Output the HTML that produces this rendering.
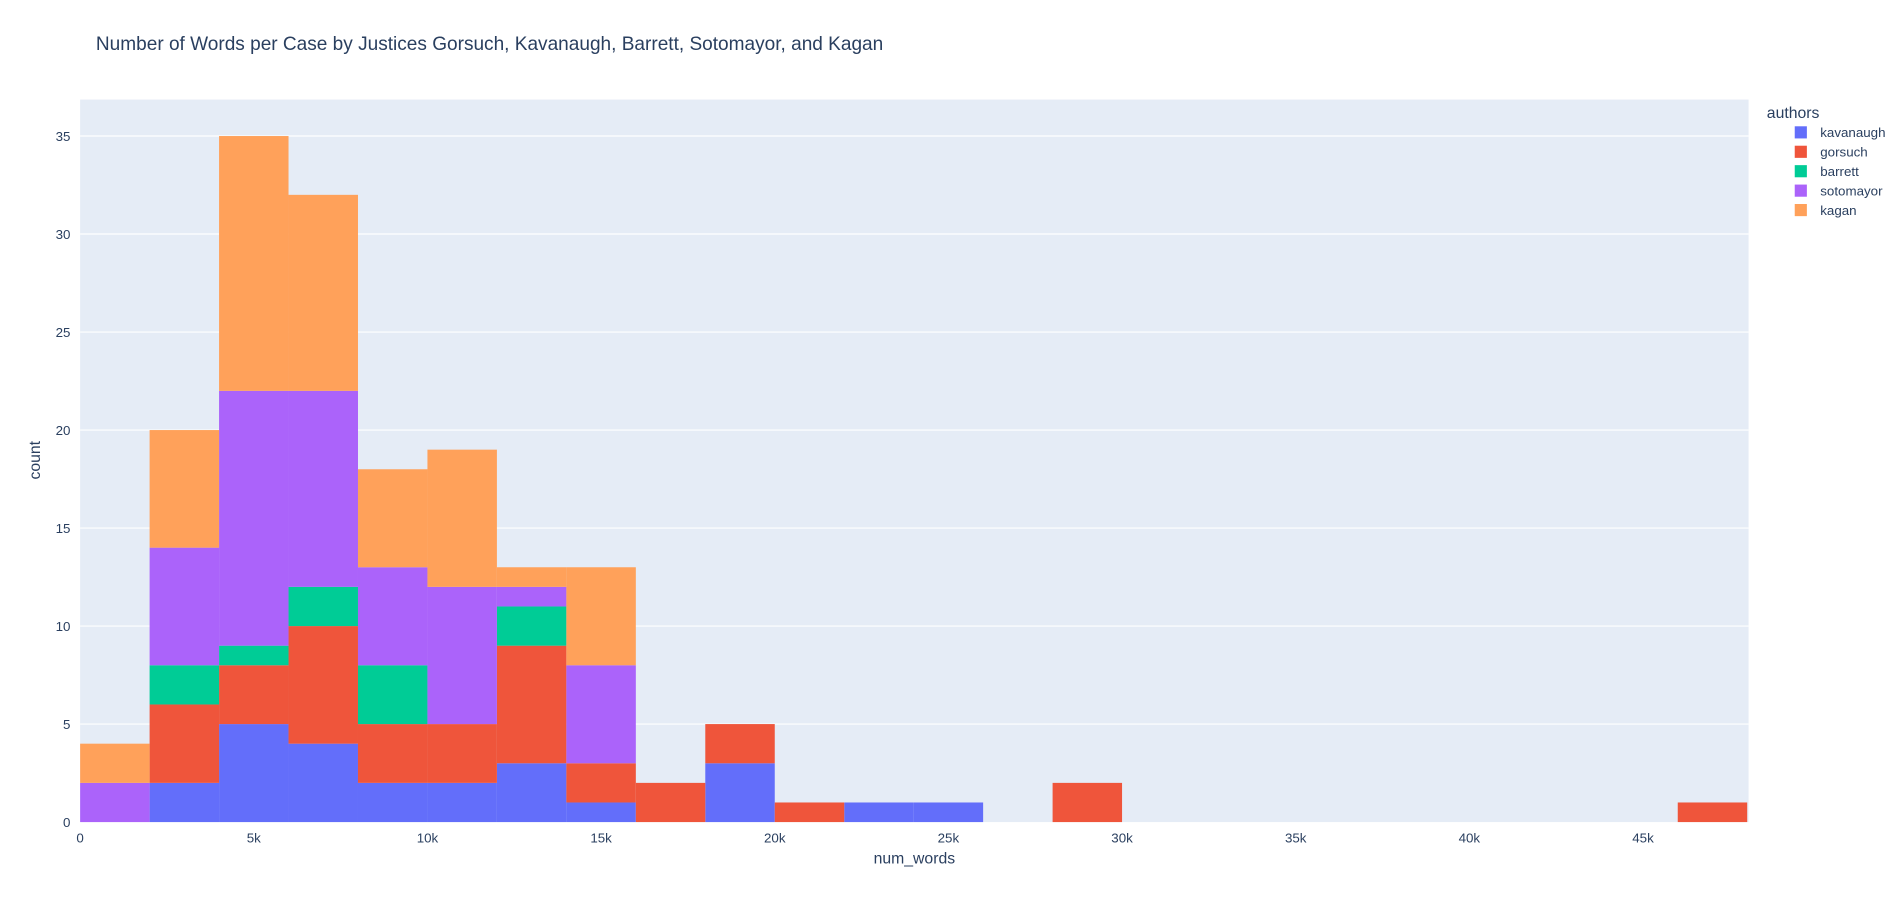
<!DOCTYPE html>
<html><head><meta charset="utf-8"><style>
html,body{margin:0;padding:0;background:#fff;overflow:hidden;}
svg text{font-family:"Liberation Sans",Arial,sans-serif;}
</style></head><body>
<svg id="chart" width="1904" height="902" xmlns="http://www.w3.org/2000/svg">
<rect x="0" y="0" width="1904" height="902" fill="#fff"/>
<g transform="scale(1.2143)">
<text x="79" y="41" font-size="15.7" fill="#2a3f5f">Number of Words per Case by Justices Gorsuch, Kavanaugh, Barrett, Sotomayor, and Kagan</text>
<rect x="66" y="82" width="1374" height="595" fill="#e5ecf6"/>
<g id="grid"></g>
<g id="bars"></g>
<g id="axes"></g>
<g id="legend"></g>
</g>
</svg>
<script>
const binWidth = 2000;
const seriesNames = ["kavanaugh","gorsuch","barrett","sotomayor","kagan"];
const seriesColors = ["#636efa","#ef553b","#00cc96","#ab63fa","#ffa15a"];
const kavanaugh = [0,2,5,4,2,2,3,1,0,3,0,1,1,0,0,0,0,0,0,0,0,0,0,0];
const gorsuch   = [0,4,3,6,3,3,6,2,2,2,1,0,0,0,2,0,0,0,0,0,0,0,0,1];
const barrett   = [0,2,1,2,3,0,2,0,0,0,0,0,0,0,0,0,0,0,0,0,0,0,0,0];
const sotomayor = [2,6,13,10,5,7,1,5,0,0,0,0,0,0,0,0,0,0,0,0,0,0,0,0];
const kagan     = [2,6,13,10,5,7,1,5,0,0,0,0,0,0,0,0,0,0,0,0,0,0,0,0];
const xTicks = [0,5000,10000,15000,20000,25000,30000,35000,40000,45000];
const xTickLabels = ["0","5k","10k","15k","20k","25k","30k","35k","40k","45k"];
const yTicks = [0,5,10,15,20,25,30,35];

const X0=66, X1=1440, Y0=677, Y1=82;
const xMax=48040, yMax=36.86;
const xs = v => X0 + v/xMax*(X1-X0);
const ys = v => Y0 - v/yMax*(Y0-Y1);
const NS="http://www.w3.org/2000/svg";
function mk(tag, attrs, parent){const e=document.createElementNS(NS,tag);for(const k in attrs)e.setAttribute(k,attrs[k]);parent.appendChild(e);return e;}
const grid=document.getElementById('grid'), bars=document.getElementById('bars'), axes=document.getElementById('axes'), legend=document.getElementById('legend');

yTicks.forEach(t=>{
  if(t>0){const l=mk('line',{x1:X0,x2:X1,y1:ys(t),y2:ys(t),stroke:'#fff','stroke-width':1},grid);
  
  }
  const tx=mk('text',{x:X0-8,y:ys(t)+4,'font-size':11,fill:'#2a3f5f','text-anchor':'end'},axes);
  tx.textContent=t;
  
  
});
xTicks.forEach((t,i)=>{
  const tx=mk('text',{x:xs(t),y:Y0+17,'font-size':11,fill:'#2a3f5f','text-anchor':'middle'},axes);
  tx.textContent=xTickLabels[i];
  
  
});

const data=[kavanaugh,gorsuch,barrett,sotomayor,kagan];
const cum=new Array(kavanaugh.length).fill(0);
data.forEach((arr,si)=>{
  arr.forEach((v,b)=>{
    if(v>0){
      const r=mk('rect',{x:xs(b*binWidth),width:xs((b+1)*binWidth)-xs(b*binWidth),y:ys(cum[b]+v),height:ys(cum[b])-ys(cum[b]+v),fill:seriesColors[si]},bars);
      
      
    }
    cum[b]+=v;
  });
});

const xt=mk('text',{x:753,y:711,'font-size':13,fill:'#2a3f5f','text-anchor':'middle'},axes);
xt.textContent='num_words';


const yt=mk('text',{x:33,y:379,'font-size':13,fill:'#2a3f5f','text-anchor':'middle',transform:'rotate(-90 33 379)'},axes);
yt.textContent='count';



const lt=mk('text',{x:1455,y:97,'font-size':13,fill:'#2a3f5f'},legend);
lt.textContent='authors';


seriesNames.forEach((n,i)=>{
  const y=109+i*16;
  const sw=mk('rect',{x:1478,y:y-5,width:10,height:10,fill:seriesColors[i]},legend);
  
  
  const t=mk('text',{x:1499,y:y+4,'font-size':11,fill:'#2a3f5f'},legend);
  t.textContent=n;
  
  
});
</script>
</body></html>
